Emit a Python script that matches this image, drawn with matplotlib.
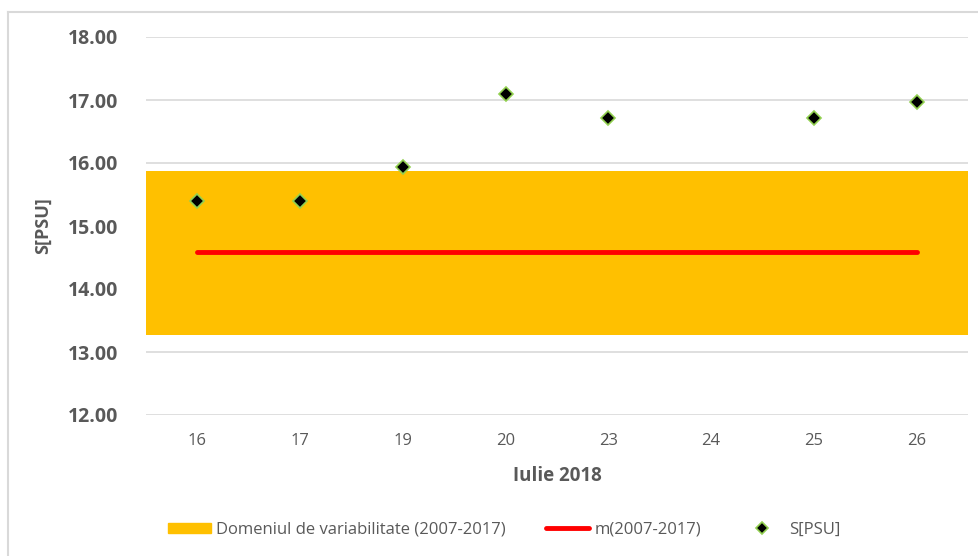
import matplotlib
matplotlib.use("Agg")
import matplotlib.pyplot as plt
from matplotlib.lines import Line2D
import numpy as np

categories = ["16", "17", "19", "20", "23", "24", "25", "26"]
band_low = [13.27, 13.27, 13.27, 13.27, 13.27, 13.27, 13.27, 13.27]
band_high = [15.88, 15.88, 15.88, 15.88, 15.88, 15.88, 15.88, 15.88]
mean_vals = [14.58, 14.58, 14.58, 14.58, 14.58, 14.58, 14.58, 14.58]
s_psu = [15.40, 15.40, 15.93, 17.10, 16.71, np.nan, 16.71, 16.97]

plt.rcParams['font.family'] = ['Open Sans', 'DejaVu Sans']
gray = '#595959'

fig = plt.figure(figsize=(9.79, 5.56), dpi=100)
ax = fig.add_axes([146/979, 1-415/556, (968-146)/979, (415-37)/556])

x = np.arange(len(categories))
heights = [h - l for h, l in zip(band_high, band_low)]
ax.bar(x, heights, bottom=band_low, width=1.0, color='#FFC000', zorder=2,
       label='Domeniul de variabilitate (2007-2017)')
ax.plot(x, mean_vals, color='#FF0000', lw=3.5, solid_capstyle='round', zorder=3,
        label='m(2007-2017)')
ax.plot(x, s_psu, ls='none', marker='D', ms=7, mfc='black', mec='#92D050', mew=1.2,
        zorder=4, label='S[PSU]')

ax.set_xlim(-0.5, len(categories) - 0.5)
ax.set_ylim(12, 18)
ax.set_yticks(np.arange(12, 18.01, 1))
ax.set_yticklabels([f"{v:.2f}" for v in np.arange(12, 18.01, 1)], fontsize=14,
                   fontweight='bold', color=gray)
ax.set_xticks(x)
ax.set_xticklabels(categories, fontsize=12, color=gray)
ax.grid(axis='y', color='#D9D9D9', lw=1.2, zorder=0)
ax.set_axisbelow(True)
for s in ax.spines.values():
    s.set_visible(False)
ax.tick_params(axis='both', length=0)
ax.tick_params(axis='y', pad=20)
ax.tick_params(axis='x', pad=13)
ax.set_xlabel('Iulie 2018', fontsize=13.5, fontweight='bold', color=gray, labelpad=12)
ax.set_ylabel('S[PSU]', fontsize=13, fontweight='bold', color=gray)
ax.yaxis.set_label_coords((52 - 146) / 822, 0.5)

handles = [
    plt.Rectangle((0, 0), 1, 1, color='#FFC000'),
    Line2D([0], [0], color='#FF0000', lw=3.5, solid_capstyle='round'),
    Line2D([0], [0], ls='none', marker='D', ms=6, mfc='black', mec='#92D050', mew=1.2),
]
labels = ['Domeniul de variabilitate (2007-2017)', 'm(2007-2017)', 'S[PSU]']
fig.legend(handles, labels, loc='center', bbox_to_anchor=(0.515, 1-530/556), ncol=3,
           frameon=False, fontsize=12, labelcolor=gray, columnspacing=2.4,
           handlelength=2.6, handleheight=0.6, handletextpad=0.3)

# outer frame (left and top)
fig.add_artist(Line2D([8/979, 8/979], [0, 1-12/556], color='#D9D9D9', lw=1.5,
                      transform=fig.transFigure))
fig.add_artist(Line2D([8/979, 1], [1-12/556, 1-12/556], color='#D9D9D9', lw=1.5,
                      transform=fig.transFigure))

fig.savefig('out.png', dpi=100)
